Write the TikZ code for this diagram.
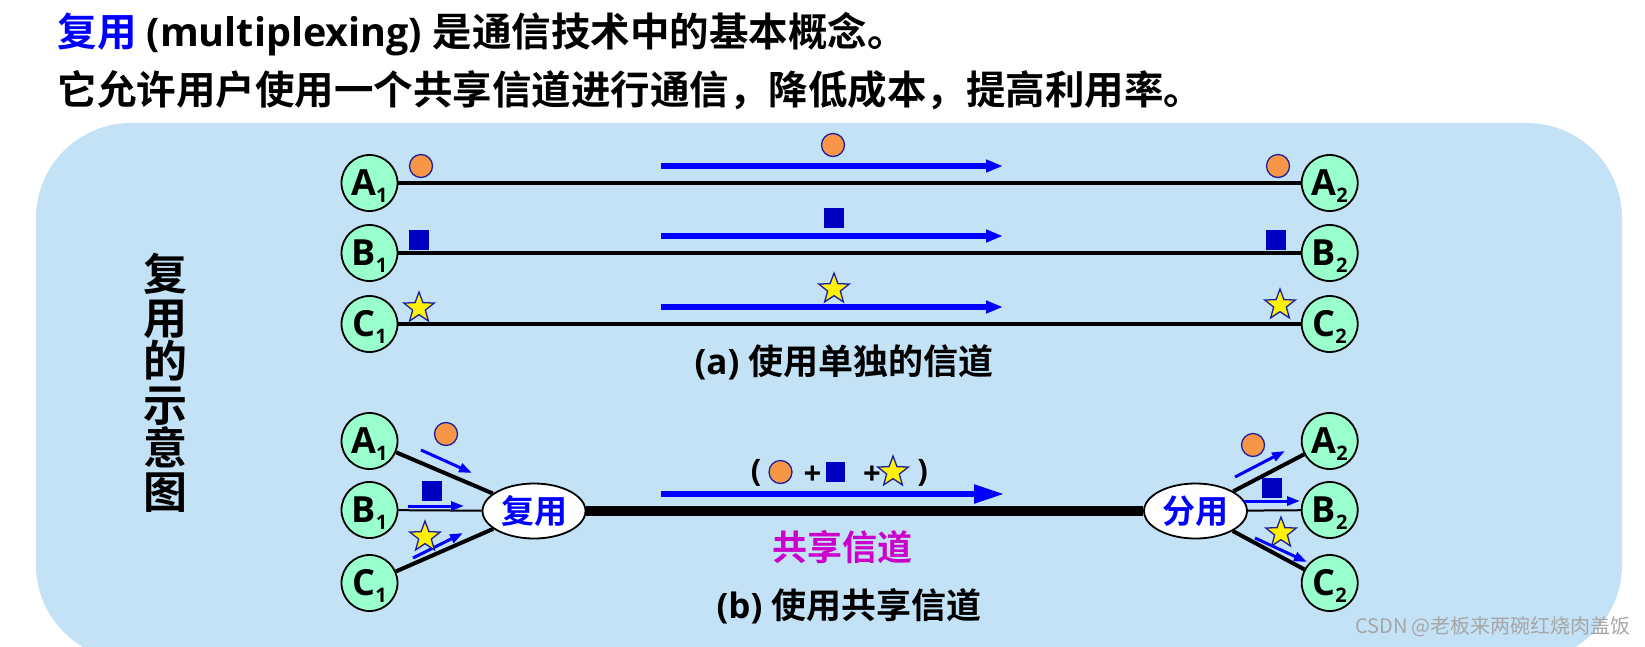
\documentclass[tikz,border=0pt]{standalone}
\usepackage{fontspec}
\setmainfont{Open Sans}
\newfontfamily\cjk{Noto Sans CJK SC}[BoldFont={Noto Sans CJK SC Bold}]
\usetikzlibrary{arrows.meta,shapes.geometric}
\definecolor{boxblue}{RGB}{196,226,246}
\definecolor{mint}{RGB}{153,255,204}
\definecolor{sigorange}{RGB}{247,150,70}
\definecolor{sigedge}{RGB}{30,30,160}
\definecolor{sqblue}{RGB}{0,0,192}
\definecolor{flowblue}{RGB}{0,0,255}
\definecolor{chmagenta}{RGB}{204,0,204}
\newcommand{\fs}[1]{\fontsize{#1}{#1}\selectfont}
\newcommand{\lowidx}[1]{\raisebox{-7pt}[0pt][0pt]{\fs{20}#1}}
\tikzset{
  station/.style={circle, draw=black, line width=1.8pt, fill=mint, minimum size=56pt, inner sep=0pt, font=\fs{36}\bfseries},
  sigcirc/.style={circle, draw=sigedge, line width=1.3pt, fill=sigorange, minimum size=23pt, inner sep=0pt},
  sigsq/.style={rectangle, fill=sqblue, minimum size=19.5pt, inner sep=0pt},
  sigstar/.style={star, star points=5, star point ratio=2.4, draw=sigedge, line width=1.3pt, fill=yellow, minimum size=32pt, inner sep=0pt},
  hub/.style={ellipse, draw=black, line width=1.8pt, fill=white, minimum width=103pt, minimum height=55pt, inner sep=0pt, text=flowblue, font=\cjk\fs{33}\bfseries},
  flow/.style={flowblue, line width=5.3pt, -{Triangle[length=17pt,width=12pt]}},
  bigflow/.style={flowblue, line width=5.3pt, -{Triangle[length=30pt,width=18pt]}},
  tinyflow/.style={flowblue, line width=3pt, -{Triangle[length=13pt,width=9pt]}},
}
\begin{document}
\begin{tikzpicture}[x=1pt, y=-1pt, every node/.style={font=\bfseries}]
	\useasboundingbox (0,0) rectangle (1645,646);
	\clip (0,0) rectangle (1645,646);
	\fill[boxblue, rounded corners=95pt] (36,123) rectangle (1622,660);
	\node[anchor=base west, font=\fs{39.5}\bfseries] (title1) at (54,46) {{\cjk\color{flowblue}复用} (multiplexing) {\cjk 是通信技术中的基本概念。}};
	\node[anchor=base west, font=\cjk\fs{39.5}\bfseries] (title2) at (54,104) {它允许用户使用一个共享信道进行通信，降低成本，提高利用率。};
	\node[font=\cjk\bfseries\fontsize{44}{43.5}\selectfont, align=center] (vtitle) at (165,383) {复\\用\\的\\示\\意\\图};
	\foreach \nm/\y in {A/183, B/253, C/324} {
		\node[station] (sep\nm1) at (369.5,\y) {\nm\lowidx{1}};
		\node[station] (sep\nm2) at (1329.7,\y) {\nm\lowidx{2}};
		\draw[line width=3.4pt] (sep\nm1) -- (sep\nm2);
		\draw[flow] (661,\y-17) -- (1003,\y-17);
	}
	\node[sigcirc] (sepc1) at (421,166) {};
	\node[sigcirc] (sepc0) at (833,145) {};
	\node[sigcirc] (sepc2) at (1278,166) {};
	\node[sigsq] (seps1) at (419,240) {};
	\node[sigsq] (seps0) at (834,218) {};
	\node[sigsq] (seps2) at (1276,240) {};
	\node[sigstar] (sept1) at (419,308) {};
	\node[sigstar] (sept0) at (834,289) {};
	\node[sigstar] (sept2) at (1280,305) {};
	\node[font=\fs{35}\bfseries] (capa) at (844,362) {(a) {\cjk 使用单独的信道}};
	\node[hub] (mux) at (534,511) {复用};
	\node[hub] (demux) at (1195.5,511) {分用};
	\draw[line width=10.3pt] (mux) -- (demux);
	\foreach \nm/\y/\w in {A/441/4pt, B/510/2pt, C/583/4pt} {
		\node[station] (sh\nm1) at (369.5,\y) {\nm\lowidx{1}};
		\node[station] (sh\nm2) at (1329.7,\y) {\nm\lowidx{2}};
		\draw[line width=\w] (sh\nm1) -- (mux);
		\draw[line width=\w] (demux) -- (sh\nm2);
	}
	\draw[tinyflow] (421,450) -- (472,473);
	\draw[tinyflow] (408,506) -- (464,506);
	\draw[tinyflow] (413,558) -- (463,533);
	\draw[tinyflow] (1235,477) -- (1285,451);
	\draw[tinyflow] (1244,501) -- (1300,501);
	\draw[tinyflow] (1255,538) -- (1307,562);
	\node[sigcirc] (shc1) at (446,434) {};
	\node[sigcirc] (shc2) at (1253,445) {};
	\node[sigsq] (shs1) at (432,491) {};
	\node[sigsq] (shs2) at (1272,488) {};
	\node[sigstar] (sht1) at (425,537) {};
	\node[sigstar] (sht2) at (1281,533) {};
	\draw[bigflow] (661,494) -- (1004,494);
	\node[font=\fs{31}\bfseries] (lpar) at (756,473) {(};
	\node[sigcirc] (sumc) at (780.5,472) {};
	\node[font=\fs{31}\bfseries] (plusa) at (812.5,475) {+};
	\node[sigsq] (sums) at (835.5,472) {};
	\node[font=\fs{31}\bfseries] (plusb) at (872,475) {+};
	\node[sigstar] (sumt) at (893,472) {};
	\node[font=\fs{31}\bfseries] (rpar) at (922.5,473) {)};
	\node[text=chmagenta, font=\cjk\fs{35}\bfseries] (chan) at (842,547) {共享信道};
	\node[font=\fs{35}\bfseries] (capb) at (849,606) {(b) {\cjk 使用共享信道}};
	\node[text=black!35, font=\cjk\fs{20}] (mark) at (1493,627) {CSDN @老板来两碗红烧肉盖饭};
\end{tikzpicture}
\end{document}
